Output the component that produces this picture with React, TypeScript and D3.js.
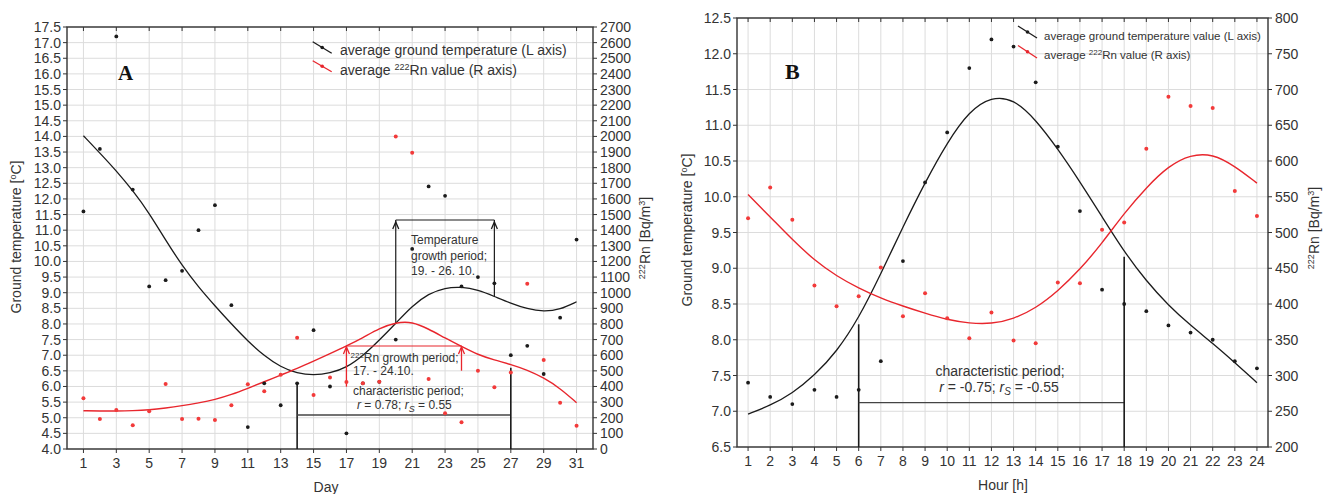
import React from 'react';
import * as d3 from 'd3';

// ---------- Panel A data (days of month) ----------
const daysA = [1,2,3,4,5,6,7,8,9,10,11,12,13,14,15,16,17,18,19,20,21,22,23,24,25,26,27,28,29,30,31];
const tempA = [11.6,13.6,17.2,12.3,9.2,9.4,9.7,11.0,11.8,8.6,4.7,6.1,5.4,6.1,7.8,6.0,4.5,6.1,6.15,7.5,10.4,12.4,12.1,9.2,9.5,9.3,7.0,7.3,6.4,8.2,10.7];
const rnA = [324,192,249,152,241,416,192,194,186,280,414,369,475,712,345,458,428,420,431,2000,1895,448,229,171,501,395,490,1058,569,296,149];
const fitTempA = [14.02,13.47,12.9,12.27,11.55,10.68,9.87,9.18,8.58,8.0,7.45,6.98,6.62,6.42,6.36,6.42,6.6,6.98,7.48,8.02,8.58,8.97,9.16,9.19,9.09,8.88,8.66,8.48,8.39,8.46,8.71];
const fitRnA = [245,243,243,245,250,262,277,295,316,348,388,430,473,515,562,610,659,712,772,810,815,768,710,656,603,569,541,505,456,388,296];
const tickDaysA = [1,3,5,7,9,11,13,15,17,19,21,23,25,27,29,31];
const tickTempA = [4.0,4.5,5.0,5.5,6.0,6.5,7.0,7.5,8.0,8.5,9.0,9.5,10.0,10.5,11.0,11.5,12.0,12.5,13.0,13.5,14.0,14.5,15.0,15.5,16.0,16.5,17.0,17.5];
const tickRnA = [0,100,200,300,400,500,600,700,800,900,1000,1100,1200,1300,1400,1500,1600,1700,1800,1900,2000,2100,2200,2300,2400,2500,2600,2700];

// ---------- Panel B data (hours) ----------
const hoursB = [1,2,3,4,5,6,7,8,9,10,11,12,13,14,15,16,17,18,19,20,21,22,23,24];
const tempB = [7.4,7.2,7.1,7.3,7.2,7.3,7.7,9.1,10.2,10.9,11.8,12.2,12.1,11.6,10.7,9.8,8.7,8.5,8.4,8.2,8.1,8.0,7.7,7.6];
const rnB = [520,563,518,426,397,411,451,383,415,380,352,388,349,345,430,429,504,514,617,690,677,674,558,523];
const fitTempB = [6.96,7.08,7.25,7.5,7.83,8.3,8.92,9.58,10.2,10.76,11.2,11.4,11.37,11.08,10.67,10.21,9.72,9.23,8.82,8.48,8.2,7.95,7.68,7.4];
const fitRnB = [553,522,490,461,439,422,408,397,387,378,373,372,379,394,418,448,485,527,563,593,609,610,593,569];
const tickTempB = [6.5,7.0,7.5,8.0,8.5,9.0,9.5,10.0,10.5,11.0,11.5,12.0,12.5];
const tickRnB = [200,250,300,350,400,450,500,550,600,650,700,750,800];

const FONT = "'Liberation Sans', Arial, Helvetica, sans-serif";
const SERIF = "'Liberation Serif', 'Times New Roman', serif";
const TXT = '#333';
const RED = '#e8262d';
const REDPT = '#f23a3a';
const BLK = '#1b1b1b';
const GRID = '#dcdcdc';

const xA = d3.scaleLinear().domain([0, 32]).range([67, 593]);
const yAL = d3.scaleLinear().domain([4, 17.5]).range([449, 27]);
const yAR = d3.scaleLinear().domain([0, 2700]).range([449, 27]);

const xB = d3.scaleLinear().domain([0.5, 24.5]).range([737, 1268]);
const yBL = d3.scaleLinear().domain([6.5, 12.5]).range([447, 18]);
const yBR = d3.scaleLinear().domain([200, 800]).range([447, 18]);

function curvePath(xs: number[], ys: number[], sx: any, sy: any) {
  const pts: [number, number][] = xs.map((x, i) => [x, ys[i]]);
  return d3.line<[number, number]>()
    .x(d => sx(d[0]))
    .y(d => sy(d[1]))
    .curve(d3.curveBasis)(pts) as string;
}

function arrowUp(x: number, tipY: number, color: string) {
  return <path d={`M${x - 3},${tipY + 7} L${x},${tipY} L${x + 3},${tipY + 7}`} fill="none" stroke={color} strokeWidth={1.3} />;
}

function Frame({ sx, syL, syR, xGrid, xTicks, yLTicks, yRTicks, fmtL, fs }: any) {
  const [x0, x1] = sx.range();
  const [yb, yt] = syL.range();
  return (
    <g>
      {xGrid.map((d: number) => (
        <line key={'vx' + d} x1={sx(d)} x2={sx(d)} y1={yt} y2={yb} stroke={GRID} strokeWidth={1} />
      ))}
      {yLTicks.map((d: number) => (
        <line key={'hy' + d} x1={x0} x2={x1} y1={syL(d)} y2={syL(d)} stroke={GRID} strokeWidth={1} />
      ))}
      <rect x={x0} y={yt} width={x1 - x0} height={yb - yt} fill="none" stroke="#333" strokeWidth={1.4} />
      {xTicks.map((d: number) => (
        <g key={'xt' + d}>
          <line x1={sx(d)} x2={sx(d)} y1={yb} y2={yb + 4} stroke="#333" />
          <line x1={sx(d)} x2={sx(d)} y1={yt} y2={yt + 4} stroke="#333" />
          <text x={sx(d)} y={yb + 19} textAnchor="middle" fontSize={fs} fill={TXT} fontFamily={FONT}>{d}</text>
        </g>
      ))}
      {yLTicks.map((d: number) => (
        <g key={'yl' + d}>
          <line x1={x0 - 4} x2={x0} y1={syL(d)} y2={syL(d)} stroke="#333" />
          <text x={x0 - 6} y={syL(d) + 5} textAnchor="end" fontSize={fs} fill={TXT} fontFamily={FONT}>{fmtL(d)}</text>
        </g>
      ))}
      {yRTicks.map((d: number) => (
        <g key={'yr' + d}>
          <line x1={x1} x2={x1 + 4} y1={syR(d)} y2={syR(d)} stroke="#333" />
          <text x={x1 + 7} y={syR(d) + 5} textAnchor="start" fontSize={fs} fill={TXT} fontFamily={FONT}>{d}</text>
        </g>
      ))}
    </g>
  );
}

function LegendMark({ x1, y1, x2, y2, color }: any) {
  return (
    <g>
      <line x1={x1} y1={y1} x2={x2} y2={y2} stroke={color} strokeWidth={1.3} />
      <circle cx={(x1 + x2) / 2} cy={(y1 + y2) / 2} r={1.8} fill={color} />
    </g>
  );
}

export default function App() {
  const f1 = d3.format('.1f');
  return (
    <svg width={1323} height={494} style={{ position: 'absolute', left: 0, top: 0, display: 'block', background: '#fff' }}
      fontFamily={FONT}>
      <rect x={0} y={0} width={1323} height={494} fill="#fff" />

      {/* ================= Panel A ================= */}
      <Frame sx={xA} syL={yAL} syR={yAR} xGrid={tickDaysA} xTicks={tickDaysA}
        yLTicks={tickTempA} yRTicks={tickRnA} fmtL={f1} fs={14} />

      {/* annotations A (black) */}
      <line x1={xA(14)} x2={xA(14)} y1={yAL(6.1)} y2={yAL(4)} stroke={BLK} strokeWidth={1.6} />
      <line x1={xA(14)} x2={xA(27)} y1={415} y2={415} stroke="#444" strokeWidth={1.3} />
      <line x1={xA(27)} x2={xA(27)} y1={yAL(6.6)} y2={yAL(4)} stroke={BLK} strokeWidth={1.6} />
      <line x1={xA(20)} x2={xA(20)} y1={yAL(8.0)} y2={220} stroke={BLK} strokeWidth={1.2} />
      <line x1={xA(26)} x2={xA(26)} y1={yAL(8.87)} y2={220} stroke={BLK} strokeWidth={1.2} />
      <line x1={xA(20)} x2={xA(26)} y1={220} y2={220} stroke={BLK} strokeWidth={1.2} />
      {arrowUp(xA(20), 222, BLK)}
      {arrowUp(xA(26), 222, BLK)}
      <g fontSize={12} fill={TXT}>
        <text x={411} y={244}>Temperature</text>
        <text x={411} y={259.5}>growth period;</text>
        <text x={411} y={275}>19. - 26. 10.</text>
      </g>

      {/* curves A */}
      <path d={curvePath(daysA, fitTempA, xA, yAL)} fill="none" stroke={BLK} strokeWidth={1.3} />
      <path d={curvePath(daysA, fitRnA, xA, yAR)} fill="none" stroke={RED} strokeWidth={1.4} />

      {/* red annotation A */}
      <line x1={xA(17)} x2={xA(24)} y1={346} y2={346} stroke={RED} strokeWidth={1.2} />
      <line x1={xA(17)} x2={xA(17)} y1={386.7} y2={347} stroke={RED} strokeWidth={1.3} />
      <line x1={xA(24)} x2={xA(24)} y1={370.7} y2={347} stroke={RED} strokeWidth={1.3} />
      {arrowUp(xA(17), 347, RED)}
      {arrowUp(xA(24), 347, RED)}

      {/* points A */}
      {daysA.map((d, i) => <circle key={'ta' + d} cx={xA(d)} cy={yAL(tempA[i])} r={1.9} fill={BLK} />)}
      {daysA.map((d, i) => <circle key={'ra' + d} cx={xA(d)} cy={yAR(rnA[i])} r={2} fill={REDPT} />)}

      <g fontSize={12} fill={TXT}>
        <text x={350.5} y={362}><tspan fontSize={8} dy={-4}>222</tspan><tspan dy={4}>Rn growth period;</tspan></text>
        <text x={353} y={375}>17. - 24.10.</text>
        <text x={353} y={395}>characteristic period;</text>
        <text x={357} y={409}><tspan fontStyle="italic">r</tspan> = 0.78; <tspan fontStyle="italic">r</tspan><tspan fontStyle="italic" fontSize={9} dy={3}>S</tspan><tspan dy={-3}> = 0.55</tspan></text>
      </g>

      {/* legend A */}
      <LegendMark x1={312.7} y1={41.7} x2={331.7} y2={53.3} color={BLK} />
      <LegendMark x1={312.7} y1={60.7} x2={331.7} y2={71.7} color={RED} />
      <text x={340} y={55} fontSize={14} fill={TXT}>average ground temperature (L axis)</text>
      <text x={340} y={75} fontSize={14} fill={TXT}>average <tspan fontSize={9} dy={-5}>222</tspan><tspan dy={5}>Rn value (R axis)</tspan></text>

      <text x={118} y={80} fontFamily={SERIF} fontWeight="bold" fontSize={21} fill="#111">A</text>

      {/* axis titles A */}
      <text transform="translate(21,237) rotate(-90)" textAnchor="middle" fontSize={14} fill={TXT}>
        Ground temperature [<tspan fontSize={9} dy={-5}>o</tspan><tspan dy={5}>C]</tspan>
      </text>
      <text transform="translate(650,238) rotate(-90)" textAnchor="middle" fontSize={14} fill={TXT}>
        <tspan fontSize={9} dy={-5}>222</tspan><tspan dy={5}>Rn [Bq/m</tspan><tspan fontSize={9} dy={-5}>3</tspan><tspan dy={5}>]</tspan>
      </text>
      <text x={326} y={492} textAnchor="middle" fontSize={14} fill={TXT}>Day</text>

      {/* ================= Panel B ================= */}
      <Frame sx={xB} syL={yBL} syR={yBR} xGrid={hoursB} xTicks={hoursB}
        yLTicks={tickTempB} yRTicks={tickRnB} fmtL={f1} fs={14} />

      <line x1={xB(6)} x2={xB(6)} y1={324.3} y2={yBL(6.5)} stroke={BLK} strokeWidth={1.6} />
      <line x1={xB(6)} x2={xB(18)} y1={402.7} y2={402.7} stroke="#444" strokeWidth={1.3} />
      <line x1={xB(18)} x2={xB(18)} y1={256.7} y2={yBL(6.5)} stroke={BLK} strokeWidth={1.6} />

      <path d={curvePath(hoursB, fitTempB, xB, yBL)} fill="none" stroke={BLK} strokeWidth={1.3} />
      <path d={curvePath(hoursB, fitRnB, xB, yBR)} fill="none" stroke={RED} strokeWidth={1.4} />

      {hoursB.map((d, i) => <circle key={'tb' + d} cx={xB(d)} cy={yBL(tempB[i])} r={1.9} fill={BLK} />)}
      {hoursB.map((d, i) => <circle key={'rb' + d} cx={xB(d)} cy={yBR(rnB[i])} r={2} fill={REDPT} />)}

      <g fontSize={14} fill={TXT} textAnchor="middle">
        <text x={1000} y={376}>characteristic period;</text>
        <text x={999} y={392}><tspan fontStyle="italic">r</tspan> = -0.75; <tspan fontStyle="italic">r</tspan><tspan fontStyle="italic" fontSize={10} dy={3}>S</tspan><tspan dy={-3}> = -0.55</tspan></text>
      </g>

      {/* legend B */}
      <LegendMark x1={1018} y1={26} x2={1037} y2={38} color={BLK} />
      <LegendMark x1={1018} y1={45.5} x2={1037} y2={58} color={RED} />
      <text x={1044} y={40} fontSize={11.5} fill={TXT}>average ground temperature value (L axis)</text>
      <text x={1044} y={59} fontSize={11.5} fill={TXT}>average <tspan fontSize={8} dy={-4}>222</tspan><tspan dy={4}>Rn value (R axis)</tspan></text>

      <text x={785} y={79} fontFamily={SERIF} fontWeight="bold" fontSize={22} fill="#111">B</text>

      <text transform="translate(692,230) rotate(-90)" textAnchor="middle" fontSize={14} fill={TXT}>
        Ground temperature [<tspan fontSize={9} dy={-5}>o</tspan><tspan dy={5}>C]</tspan>
      </text>
      <text transform="translate(1319,228) rotate(-90)" textAnchor="middle" fontSize={14} fill={TXT}>
        <tspan fontSize={9} dy={-5}>222</tspan><tspan dy={5}>Rn [Bq/m</tspan><tspan fontSize={9} dy={-5}>3</tspan><tspan dy={5}>]</tspan>
      </text>
      <text x={1003} y={490} textAnchor="middle" fontSize={14} fill={TXT}>Hour [h]</text>
    </svg>
  );
}
